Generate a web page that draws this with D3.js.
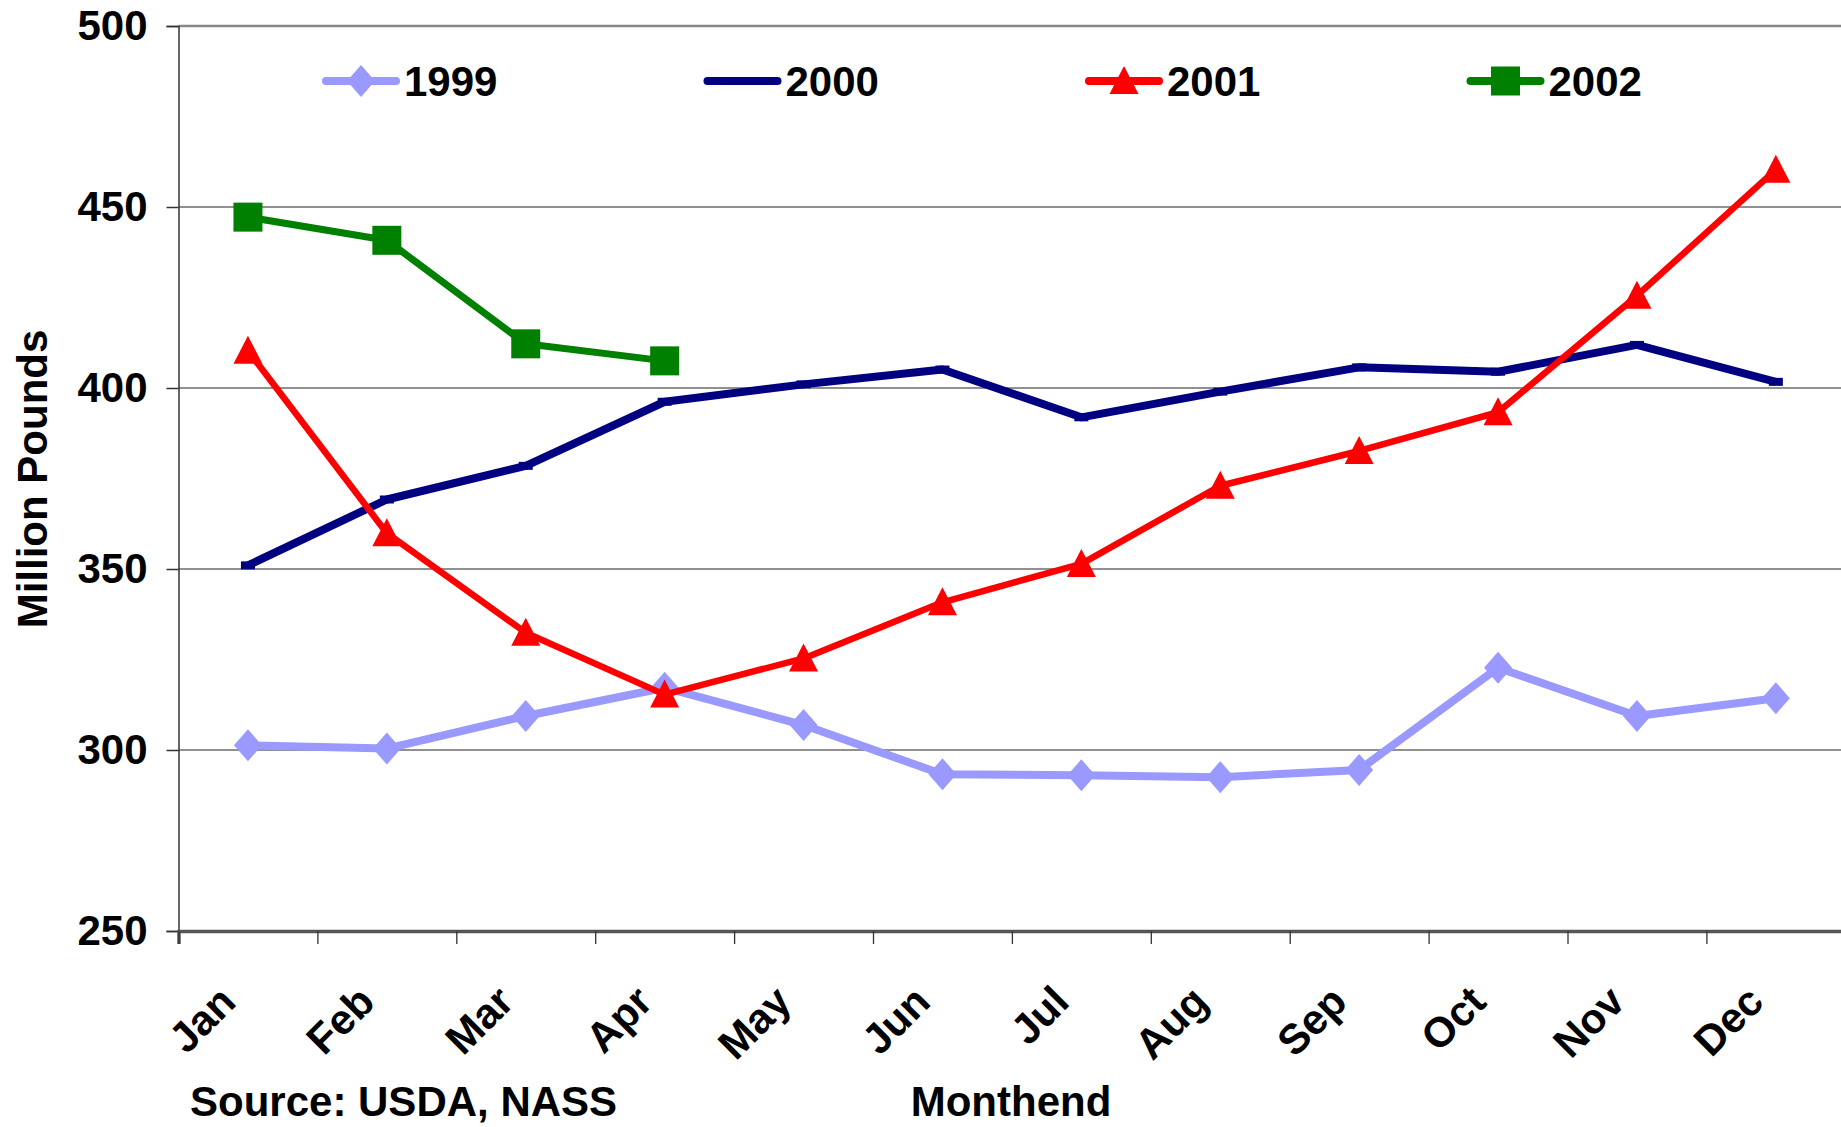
<!DOCTYPE html>
<html>
<head>
<meta charset="utf-8">
<script src="https://cdn.jsdelivr.net/npm/d3@7"></script>
<style>
  html, body { margin: 0; padding: 0; background: #fff; overflow: hidden; }
  svg text { font-family: "Liberation Sans", Arial, sans-serif; font-weight: bold; fill: #000; }
</style>
</head>
<body>
<svg id="chart" width="1841" height="1127"></svg>
<script>
const months = ["Jan","Feb","Mar","Apr","May","Jun","Jul","Aug","Sep","Oct","Nov","Dec"];
const yTicks = [250, 300, 350, 400, 450, 500];
const seriesNames = ["1999", "2000", "2001", "2002"];
const values1999 = [301.3, 300.4, 309.4, 317.2, 306.9, 293.3, 293.0, 292.5, 294.5, 322.7, 309.4, 314.3];
const values2000 = [351.0, 369.2, 378.5, 396.2, 401.0, 405.1, 391.9, 399.0, 405.7, 404.5, 411.9, 401.7];
const values2001 = [410.3, 359.9, 332.4, 315.3, 325.3, 340.8, 351.4, 373.0, 382.6, 393.3, 425.5, 460.3];
const values2002 = [447.2, 440.8, 412.2, 407.5];
const xTitle = "Monthend";
const yTitle = "Million Pounds";
const sourceNote = "Source: USDA, NASS";

const series = [
  { name: seriesNames[0], values: values1999, color: "#9999FF", width: 8, marker: "diamond" },
  { name: seriesNames[1], values: values2000, color: "#000080", width: 8, marker: "dash" },
  { name: seriesNames[2], values: values2001, color: "#FF0000", width: 6.5, marker: "triangle" },
  { name: seriesNames[3], values: values2002, color: "#008000", width: 7, marker: "square" }
];

const svg = d3.select("#chart");
const plotL = 178.5, plotR = 1845.3, plotT = 26, plotB = 931;
const x = d3.scaleBand().domain(months).range([plotL, plotR]);
const y = d3.scaleLinear().domain([250, 500]).range([plotB, plotT]);
const cx = m => x(m) + x.bandwidth() / 2;

// gridlines
svg.append("g").selectAll("line").data(yTicks.filter(t => t !== 250 && t !== 500)).join("line")
  .attr("x1", plotL).attr("x2", plotR).attr("y1", d => y(d)).attr("y2", d => y(d))
  .attr("stroke", "#222").attr("stroke-width", 1.2);
// top border
svg.append("line").attr("x1", plotL).attr("x2", plotR).attr("y1", y(500)).attr("y2", y(500))
  .attr("stroke", "#888").attr("stroke-width", 2.5);

// Y axis
const yAxis = d3.axisLeft(y).tickValues(yTicks).tickSize(12).tickPadding(19);
const gy = svg.append("g").attr("transform", `translate(${plotL},0)`).call(yAxis);
gy.select(".domain").attr("stroke", "#333").attr("stroke-width", 1.5);
gy.selectAll(".tick line").attr("stroke", "#333").attr("stroke-width", 1.5);
gy.selectAll(".tick text").attr("font-size", 42).attr("font-family", "Liberation Sans, Arial, sans-serif")
  .attr("font-weight", "bold").attr("fill", "#000");

// X axis ticks at category boundaries
const xb = d3.scaleLinear().domain([0, 12]).range([plotL, plotR]);
const gx = svg.append("g").attr("transform", `translate(0,${plotB})`)
  .call(d3.axisBottom(xb).tickValues(d3.range(0, 13)).tickSize(13).tickFormat(""));
gx.select(".domain").attr("stroke", "#555").attr("stroke-width", 3.5);
gx.selectAll(".tick line").attr("stroke", "#333").attr("stroke-width", 1.3);

// X labels
svg.append("g").selectAll("text").data(months).join("text")
  .attr("transform", d => `translate(${cx(d) - 10},1004) rotate(-45)`)
  .attr("text-anchor", "end").attr("font-size", 42).text(d => d);

// titles
svg.append("text").attr("transform", `translate(47,479) rotate(-90)`)
  .attr("text-anchor", "middle").attr("font-size", 42).text(yTitle);
svg.append("text").attr("x", 1011).attr("y", 1116).attr("text-anchor", "middle")
  .attr("font-size", 42).text(xTitle);
svg.append("text").attr("x", 190).attr("y", 1116).attr("text-anchor", "start")
  .attr("font-size", 42).text(sourceNote);

function drawMarker(g, type, color, px, py) {
  if (type === "diamond") {
    g.append("path").attr("d", `M${px},${py-16}L${px+14},${py}L${px},${py+16}L${px-14},${py}Z`).attr("fill", color);
  } else if (type === "triangle") {
    g.append("path").attr("d", `M${px},${py-15}L${px+14.5},${py+13}L${px-14.5},${py+13}Z`).attr("fill", color);
  } else if (type === "square") {
    g.append("rect").attr("x", px - 14.5).attr("y", py - 14.5).attr("width", 29).attr("height", 29).attr("fill", color);
  } else if (type === "dash") {
    g.append("rect").attr("x", px - 7).attr("y", py - 4).attr("width", 14).attr("height", 8).attr("fill", color);
  }
}

const line = d3.line().x(d => cx(d.m)).y(d => y(d.v));
series.forEach(s => {
  const pts = s.values.map((v, i) => ({ m: months[i], v }));
  const g = svg.append("g");
  g.append("path").datum(pts).attr("d", line).attr("fill", "none")
    .attr("stroke", s.color).attr("stroke-width", s.width).attr("stroke-linejoin", "round");
  pts.forEach(p => drawMarker(g, s.marker, s.color, cx(p.m), y(p.v)));
});

// legend
const lg = svg.append("g");
series.forEach((s, i) => {
  const x0 = 326 + i * 381.5, ly = 81;
  lg.append("line").attr("x1", x0).attr("x2", x0 + 70).attr("y1", ly).attr("y2", ly)
    .attr("stroke", s.color).attr("stroke-width", 8).attr("stroke-linecap", "round");
  if (s.marker !== "dash") drawMarker(lg, s.marker, s.color, x0 + 35, ly);
  lg.append("text").attr("x", x0 + 78).attr("y", ly + 15).attr("font-size", 42).text(s.name);
});
</script>
</body>
</html>
